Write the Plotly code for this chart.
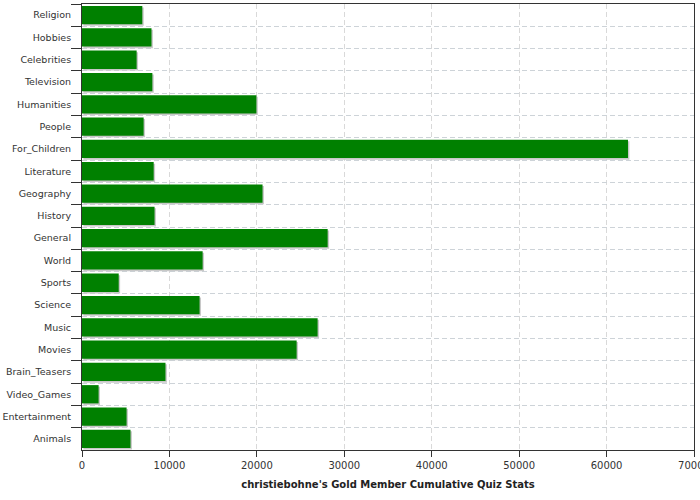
import plotly.graph_objects as go

categories = ["Religion", "Hobbies", "Celebrities", "Television", "Humanities", "People",
              "For_Children", "Literature", "Geography", "History", "General", "World",
              "Sports", "Science", "Music", "Movies", "Brain_Teasers", "Video_Games",
              "Entertainment", "Animals"]
values = [6900, 7950, 6250, 8050, 19950, 7050,
          62450, 8200, 20650, 8300, 28100, 13800,
          4200, 13450, 26950, 24550, 9550, 1900,
          5100, 5550]
x_ticks = [0, 10000, 20000, 30000, 40000, 50000, 60000, 70000]
axis_title = "christiebohne's Gold Member Cumulative Quiz Stats"

BAR_W = 0.82
fig = go.Figure()
# drop shadow
fig.add_trace(go.Bar(
    y=categories, x=values, orientation="h", base=160,
    width=BAR_W, offset=-BAR_W / 2 + 0.07,
    marker=dict(color="#c8c8c8", line=dict(width=0)),
    hoverinfo="skip", showlegend=False,
))
fig.add_trace(go.Bar(
    y=categories, x=values, orientation="h",
    width=BAR_W, offset=-BAR_W / 2,
    marker=dict(color="#008000", line=dict(width=0)),
    showlegend=False,
))

font_family = "DejaVu Sans"
fig.update_layout(
    width=700, height=500,
    margin=dict(l=82, r=6, t=4, b=50, autoexpand=False),
    paper_bgcolor="white", plot_bgcolor="white",
    barmode="overlay",
    font=dict(family=font_family, size=10, color="#333333"),
)
fig.update_xaxes(
    range=[0, 70000], tickvals=x_ticks, ticktext=[str(v) for v in x_ticks],
    showgrid=True, gridcolor="#d9d9d9", griddash="5px,3px", gridwidth=1,
    showline=True, linecolor="#333333", linewidth=1, mirror=True,
    ticks="outside", ticklen=6, tickcolor="#333333",
    tickfont=dict(size=10, color="#333333"),
    ticklabeloverflow="allow", automargin=False,
    zeroline=False,
    title=dict(text="<b>" + axis_title + "</b>", font=dict(size=10, color="#222222"), standoff=10),
)
fig.update_yaxes(
    type="category", categoryorder="array", categoryarray=categories,
    autorange="reversed",
    tickson="boundaries",
    showgrid=True, gridcolor="#cdd3d8", griddash="5px,3px", gridwidth=1,
    showline=True, linecolor="#333333", linewidth=1, mirror=True,
    ticks="outside", ticklen=10, tickcolor="#333333",
    tickfont=dict(size=9.5, color="#333333"),
    ticklabelstandoff=8,
    automargin=False,
)

fig.write_html(
    "out.html",
    config={"displayModeBar": False},
    post_script="document.body.style.margin='0';document.body.style.overflow='hidden';",
)
